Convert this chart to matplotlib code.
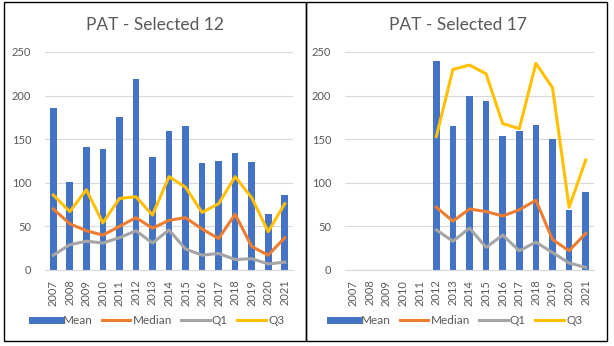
import numpy as np
import matplotlib.pyplot as plt
from matplotlib.patches import Rectangle
from matplotlib.lines import Line2D

years = [str(y) for y in range(2007, 2022)]

# Selected 12
mean_12 = [186, 101, 141, 139, 175, 219, 130, 159, 165, 123, 125, 134, 124, 64, 86]
median_12 = [70, 53, 45, 40, 50, 60, 48, 57, 60, 47, 36, 64, 27, 17, 37]
q1_12 = [17, 29, 33, 31, 37, 45, 31, 46, 24, 17, 19, 12, 13, 7, 9]
q3_12 = [86, 67, 92, 54, 82, 84, 63, 107, 95, 66, 76, 107, 83, 44, 76]

# Selected 17 (no data before 2012)
nan = np.nan
mean_17 = [nan] * 5 + [240, 165, 200, 194, 154, 159, 166, 150, 69, 89]
median_17 = [nan] * 5 + [72, 56, 70, 67, 62, 69, 80, 35, 22, 42]
q1_17 = [nan] * 5 + [46, 33, 48, 26, 40, 22, 32, 20, 8, 3]
q3_17 = [nan] * 5 + [153, 230, 235, 225, 168, 162, 237, 209, 72, 126]

BLUE = '#4472C4'
ORANGE = '#ED7D31'
GREY = '#A5A5A5'
YELLOW = '#FFC000'
TEXT = '#595959'

plt.rcParams['font.family'] = ['Lato', 'DejaVu Sans']

W, H = 614, 346
fig = plt.figure(figsize=(W / 100, H / 100), dpi=100)


def px(x0, y0, x1, y1):
    # pixel box (top-left origin) -> figure fraction rect
    return [x0 / W, 1 - y1 / H, (x1 - x0) / W, (y1 - y0) / H]


def draw_panel(rect, title, title_x, mean, median, q1, q3, legend_x):
    ax = fig.add_axes(px(*rect))
    x = np.arange(len(years))
    ax.bar(x, mean, width=0.4, color=BLUE, zorder=2)
    ax.plot(x, median, color=ORANGE, lw=2.2, zorder=3)
    ax.plot(x, q1, color=GREY, lw=2.2, zorder=3)
    ax.plot(x, q3, color=YELLOW, lw=2.2, zorder=3)
    ax.set_xlim(-0.5, len(years) - 0.5)
    ax.set_ylim(0, 250)
    ax.set_yticks([0, 50, 100, 150, 200, 250])
    ax.set_xticks(x)
    ax.set_xticklabels(years, rotation=90)
    ax.grid(axis='y', color='#D9D9D9', lw=0.8, zorder=0)
    for s in ['top', 'right', 'left']:
        ax.spines[s].set_visible(False)
    ax.spines['bottom'].set_color('#D9D9D9')
    ax.tick_params(axis='y', length=0, pad=10, labelsize=8, labelcolor=TEXT)
    ax.tick_params(axis='x', length=0, pad=7, labelsize=8, labelcolor=TEXT)
    fig.text(title_x / W, 1 - 25 / H, title, ha='center', va='center',
             fontsize=12.5, color=TEXT)
    handles = [
        Line2D([], [], color=BLUE, lw=5),
        Line2D([], [], color=ORANGE, lw=2.2),
        Line2D([], [], color=GREY, lw=2.2),
        Line2D([], [], color=YELLOW, lw=2.2),
    ]
    fig.legend(handles, ['Mean', 'Median', 'Q1', 'Q3'], loc='center',
               bbox_to_anchor=(legend_x / W, 1 - 321 / H), ncol=4,
               frameon=False, fontsize=8.5, labelcolor=TEXT,
               handlelength=2.4, handletextpad=0.2, columnspacing=0.8)
    return ax


draw_panel((45, 52, 293, 270), 'PAT - Selected 12', 155,
           mean_12, median_12, q1_12, q3_12, 158)
draw_panel((345, 52, 594, 270), 'PAT - Selected 17', 458,
           mean_17, median_17, q1_17, q3_17, 456)

# panel frames
for x0, x1 in [(4, 306), (306, 607)]:
    fig.add_artist(Rectangle((x0 / W, 1 - 341 / H), (x1 - x0) / W, 339 / H,
                             transform=fig.transFigure, fill=False,
                             edgecolor='black', lw=1.0))

fig.savefig('out.png', dpi=100)
